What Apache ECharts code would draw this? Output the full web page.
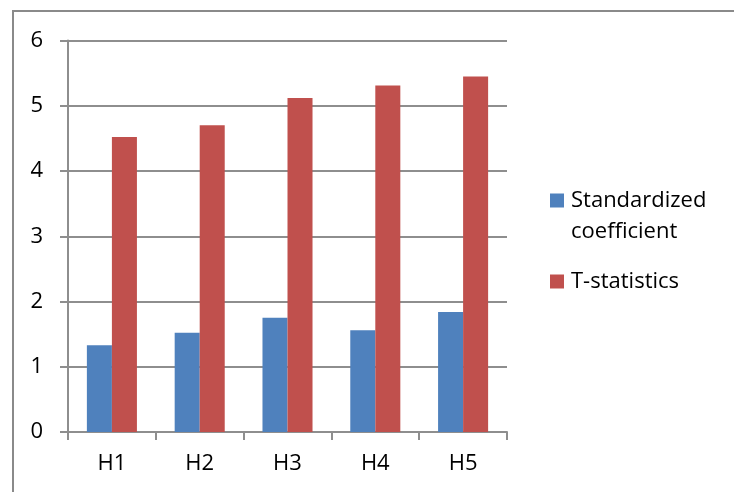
<!DOCTYPE html>
<html>
<head>
<meta charset="utf-8">
<script src="https://cdn.jsdelivr.net/npm/echarts@6/dist/echarts.min.js"></script>
<style>
  html, body { margin: 0; padding: 0; background: #fff; }
  #chart { width: 734px; height: 492px; }
</style>
</head>
<body>
<div id="chart"></div>
<script>
// Hypotheses H1..H5 and their regression results
const categories = ['H1', 'H2', 'H3', 'H4', 'H5'];
const standardizedCoefficient = [1.33, 1.52, 1.75, 1.56, 1.84];
const tStatistics = [4.52, 4.70, 5.12, 5.31, 5.45];
const yTicks = { min: 0, max: 6, interval: 1 };

const seriesNames = ['Standardized coefficient', 'T-statistics'];
const FONT = 'Open Sans';
const FONT_SIZE = 22;
const GRID_GRAY = '#8e8e8e';
const LEGEND_LINE = 31;

const chart = echarts.init(document.getElementById('chart'), null, { renderer: 'canvas' });

chart.setOption({
  backgroundColor: '#ffffff',
  animation: false,
  textStyle: { fontFamily: FONT },
  graphic: [{
    type: 'rect',
    silent: true,
    shape: { x: 13, y: 11, width: 900, height: 700 },
    style: { fill: 'none', stroke: '#8a8a8a', lineWidth: 2 }
  }],
  grid: { left: 68, right: 227, top: 40.5, bottom: 60 },
  legend: {
    orient: 'vertical',
    left: 550,
    top: 154,
    padding: 0,
    itemWidth: 14,
    itemHeight: 14,
    itemGap: 19,
    icon: 'rect',
    textStyle: {
      fontFamily: FONT, fontSize: FONT_SIZE, color: '#000',
      lineHeight: LEGEND_LINE, padding: [0, 0, 0, 2]
    },
    // the leading blank line keeps the swatch level with the first line of a wrapped name
    formatter: function (name) {
      return name === seriesNames[0] ? ' \nStandardized\ncoefficient' : name;
    },
    data: seriesNames
  },
  xAxis: {
    type: 'category',
    data: categories,
    boundaryGap: true,
    axisLine: { lineStyle: { color: GRID_GRAY, width: 2 } },
    axisTick: { show: true, length: 8, lineStyle: { color: GRID_GRAY, width: 2 } },
    axisLabel: { fontFamily: FONT, fontSize: FONT_SIZE, color: '#000', margin: 21 }
  },
  yAxis: {
    type: 'value',
    min: yTicks.min,
    max: yTicks.max,
    interval: yTicks.interval,
    axisLine: { show: true, lineStyle: { color: GRID_GRAY, width: 2 } },
    axisTick: { show: true, length: 8, lineStyle: { color: GRID_GRAY, width: 2 } },
    splitLine: { show: true, lineStyle: { color: GRID_GRAY, width: 2 } },
    axisLabel: { fontFamily: FONT, fontSize: FONT_SIZE, color: '#000', margin: 25 }
  },
  series: [
    {
      name: seriesNames[0],
      type: 'bar',
      data: standardizedCoefficient,
      barGap: '0%',
      barCategoryGap: '43%',
      itemStyle: { color: '#4F81BD' }
    },
    {
      name: seriesNames[1],
      type: 'bar',
      data: tStatistics,
      barGap: '0%',
      barCategoryGap: '43%',
      itemStyle: { color: '#C0504D' }
    }
  ]
});
</script>
</body>
</html>
